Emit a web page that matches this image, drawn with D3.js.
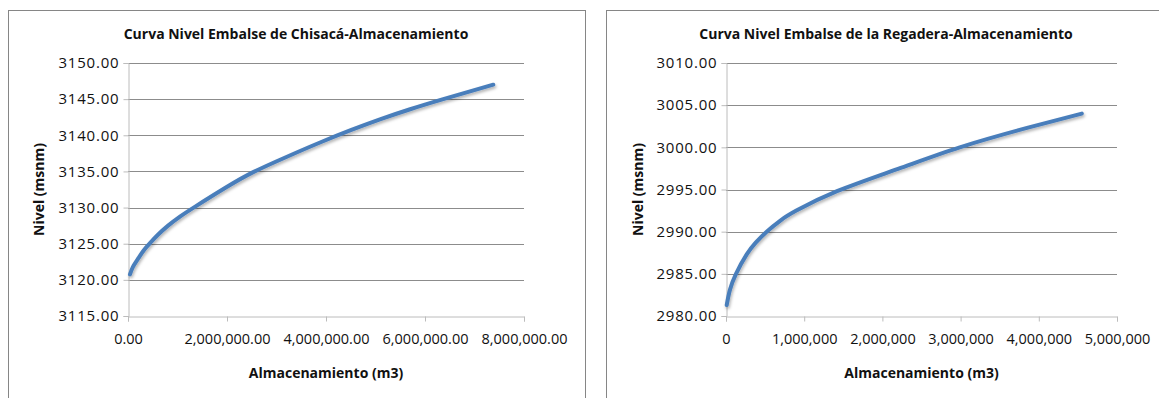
<!DOCTYPE html>
<html>
<head>
<meta charset="utf-8">
<script src="https://cdn.jsdelivr.net/npm/d3@7"></script>
<style>
  html, body { margin: 0; padding: 0; background: #fff; }
  svg text { font-family: "Open Sans", "Noto Sans", sans-serif; fill: #111; }
</style>
</head>
<body>
<div id="chart"></div>
<script>
// Curva nivel-almacenamiento de los embalses Chisacá y La Regadera

// Embalse de Chisacá
const chisacaVolume = [40000, 100000, 210000, 320000, 440000, 600000, 810000, 1050000, 1350000, 1960000,
                       2530000, 3200000, 3880000, 4500000, 5090000, 5700000, 6370000, 7380000];
const chisacaLevel  = [3120.75, 3121.8, 3123.0, 3124.1, 3125.05, 3126.2, 3127.5, 3128.75, 3130.1, 3132.7,
                       3134.9, 3137.0, 3139.0, 3140.7, 3142.2, 3143.6, 3145.0, 3147.0];
const chisacaYTicks = [3115, 3120, 3125, 3130, 3135, 3140, 3145, 3150];
const chisacaXTicks = [0, 2000000, 4000000, 6000000, 8000000];

// Embalse de la Regadera
const regaderaVolume = [9000, 50000, 128000, 265000, 380000, 520000, 700000, 900000, 1420000, 2200000,
                        2990000, 3850000, 4550000];
const regaderaLevel  = [2981.3, 2983.1, 2985.0, 2987.3, 2988.7, 2990.0, 2991.35, 2992.5, 2994.8, 2997.45,
                        3000.0, 3002.3, 3004.0];
const regaderaYTicks = [2980, 2985, 2990, 2995, 3000, 3005, 3010];
const regaderaXTicks = [0, 1000000, 2000000, 3000000, 4000000, 5000000];

const svg = d3.select("#chart").append("svg")
  .attr("width", 1159)
  .attr("height", 398);

// soft shadow under the curve, like the spreadsheet style
const filter = svg.append("defs").append("filter")
  .attr("id", "shadow")
  .attr("x", "-10%").attr("y", "-10%")
  .attr("width", "120%").attr("height", "130%");
filter.append("feDropShadow")
  .attr("dx", 1).attr("dy", 2)
  .attr("stdDeviation", 1.4)
  .attr("flood-color", "#000")
  .attr("flood-opacity", 0.3);

function drawChart(opts) {
  const g = svg.append("g");

  // outer frame
  g.append("rect")
    .attr("x", opts.box[0] + 0.5).attr("y", opts.box[1] + 0.5)
    .attr("width", opts.box[2]).attr("height", opts.box[3])
    .attr("fill", "#fff")
    .attr("stroke", "#868686");

  const x = d3.scaleLinear()
    .domain(d3.extent(opts.xTicks))
    .range([opts.plot.left, opts.plot.right]);
  const y = d3.scaleLinear()
    .domain(d3.extent(opts.yTicks))
    .range([opts.plot.bottom, opts.plot.top]);

  // horizontal gridlines
  g.append("g")
    .selectAll("line")
    .data(opts.yTicks.slice(1))
    .enter().append("line")
      .attr("x1", opts.plot.left).attr("x2", opts.plot.right)
      .attr("y1", d => Math.round(y(d)) + 0.5)
      .attr("y2", d => Math.round(y(d)) + 0.5)
      .attr("stroke", "#8c8c8c");

  // y axis
  const yAxis = g.append("g")
    .attr("transform", `translate(${opts.plot.left + 0.5},0)`)
    .call(d3.axisLeft(y).tickValues(opts.yTicks).tickFormat(d3.format(".2f")).tickSize(5).tickPadding(4));
  yAxis.select(".domain").attr("stroke", "#bcbcbc");
  yAxis.selectAll(".tick line").attr("stroke", "#bcbcbc");
  yAxis.selectAll("text")
    .style("font-size", "15px")
    .style("letter-spacing", "0.8px")
    .attr("fill", "#222");

  // x axis
  const xAxis = g.append("g")
    .attr("transform", `translate(0,${opts.plot.bottom + 0.5})`)
    .call(d3.axisBottom(x).tickValues(opts.xTicks).tickFormat(d3.format(opts.xFormat)).tickSize(5).tickPadding(12));
  xAxis.select(".domain").attr("stroke", "#bcbcbc");
  xAxis.selectAll(".tick line").attr("stroke", "#bcbcbc");
  xAxis.selectAll("text").style("font-size", "14.5px").attr("fill", "#222");

  // the curve
  const pts = opts.volume.map((v, i) => [v, opts.level[i]]);
  g.append("path")
    .datum(pts)
    .attr("fill", "none")
    .attr("stroke", "#4a7ebb")
    .attr("stroke-width", 4)
    .attr("stroke-linecap", "round")
    .attr("filter", "url(#shadow)")
    .attr("d", d3.line().x(d => x(d[0])).y(d => y(d[1])).curve(d3.curveNatural));

  // title
  g.append("text")
    .attr("x", opts.titleX).attr("y", 39)
    .attr("text-anchor", "middle")
    .style("font-size", "14px")
    .style("font-weight", "bold")
    .text(opts.title);

  // axis titles
  g.append("text")
    .attr("x", (opts.plot.left + opts.plot.right) / 2).attr("y", 378)
    .attr("text-anchor", "middle")
    .style("font-size", "14px")
    .style("font-weight", "bold")
    .text("Almacenamiento (m3)");

  g.append("text")
    .attr("transform", `translate(${opts.yLabelX},${(opts.plot.top + opts.plot.bottom) / 2}) rotate(-90)`)
    .attr("text-anchor", "middle")
    .style("font-size", "14px")
    .style("font-weight", "bold")
    .text("Nivel (msnm)");
}

drawChart({
  box: [8, 10, 577, 400],
  plot: { left: 128, right: 524, top: 63, bottom: 316 },
  xTicks: chisacaXTicks, yTicks: chisacaYTicks,
  volume: chisacaVolume, level: chisacaLevel,
  xFormat: ",.2f",
  title: "Curva Nivel Embalse de Chisacá-Almacenamiento",
  titleX: 296,
  yLabelX: 44
});

drawChart({
  box: [606, 10, 570, 400],
  plot: { left: 726, right: 1117, top: 63, bottom: 316 },
  xTicks: regaderaXTicks, yTicks: regaderaYTicks,
  volume: regaderaVolume, level: regaderaLevel,
  xFormat: ",d",
  title: "Curva Nivel Embalse de la Regadera-Almacenamiento",
  titleX: 886,
  yLabelX: 643
});
</script>
</body>
</html>
